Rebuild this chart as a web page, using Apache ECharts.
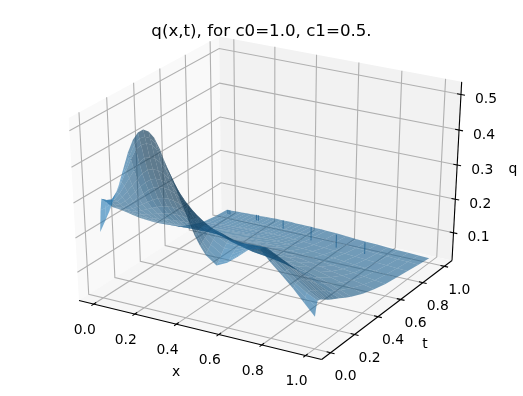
<!DOCTYPE html>
<html>
<head>
    <title>q(x,t)</title>
    <script src="https://cdn.jsdelivr.net/npm/echarts@6/dist/echarts.min.js"></script>
    <style>
        html, body { margin: 0; padding: 0; background: #fff; }
        #chart { width: 523px; height: 396px; }
    </style>
</head>
<body>
<div id="chart"></div>

<script>
    var xTicks = [0, 0.2, 0.4, 0.6, 0.8, 1.0];
    var tTicks = [0, 0.2, 0.4, 0.6, 0.8, 1.0];
    var qTicks = [0.1, 0.2, 0.3, 0.4, 0.5];

    var xLim = [-0.05, 1.05];
    var tLim = [-0.05, 1.05];
    var qLim = [0.0265, 0.5245];

    var xGrid = [0, .025, .05, .075, .1, .125, .15, .175, .2, .225, .25, .275, .3, .325, .35, .375, .4, .425, .45, .475, .5,
        .55, .6, .65, .7, .75, .8, .85, .9, .95, 1];
    var tGrid = [0, .01, .02, .04, .06, .08, .1, .13, .16, .2, .25, .3, .4, .5, .6, .7, .8, .9, 1];

    // one row per tGrid value
    var q000 = [.21, .243, .277, .317, .356, .405, .453, .49, .513, .524, .522, .508, .48, .44, .405, .37, .335, .298, .262, .235, .213, .19, .205, .23, .257, .265, .233, .205, .175, .142, .109];
    var q001 = [.27, .28, .295, .325, .36, .40, .44, .475, .495, .503, .502, .49, .465, .43, .397, .364, .332, .297, .264, .239, .218, .195, .208, .232, .258, .265, .235, .207, .18, .155, .135];
    var q002 = [.30, .30, .305, .33, .36, .395, .43, .46, .475, .482, .482, .47, .45, .42, .39, .36, .33, .297, .267, .243, .223, .2, .212, .235, .258, .264, .236, .21, .185, .165, .15];
    var q004 = [.29, .295, .30, .32, .345, .37, .395, .42, .435, .44, .44, .432, .415, .395, .37, .345, .32, .295, .27, .25, .233, .213, .22, .238, .256, .26, .235, .21, .186, .165, .148];
    var q006 = [.28, .285, .29, .305, .325, .345, .365, .385, .398, .403, .403, .397, .385, .37, .352, .332, .312, .292, .272, .255, .242, .225, .227, .24, .252, .252, .232, .208, .184, .162, .143];
    var q008 = [.268, .272, .278, .29, .305, .322, .34, .355, .367, .372, .372, .368, .36, .347, .333, .318, .302, .286, .272, .26, .25, .235, .232, .24, .245, .242, .225, .203, .18, .157, .138];
    var q010 = [.258, .26, .265, .275, .288, .302, .316, .33, .34, .345, .346, .343, .336, .326, .315, .303, .29, .278, .268, .26, .256, .24, .236, .24, .24, .232, .216, .196, .174, .152, .132];
    var q013 = [.247, .248, .25, .257, .266, .276, .286, .295, .303, .307, .308, .306, .301, .294, .286, .277, .267, .258, .251, .246, .243, .232, .229, .23, .228, .216, .201, .184, .165, .145, .125];
    var q016 = [.236, .236, .237, .242, .248, .255, .262, .268, .273, .276, .277, .276, .272, .267, .261, .254, .247, .239, .232, .226, .222, .212, .207, .205, .203, .197, .186, .171, .154, .136, .119];
    var q020 = [.22, .22, .221, .224, .228, .232, .236, .24, .243, .245, .245, .245, .243, .239, .234, .229, .224, .219, .214, .209, .203, .195, .188, .184, .18, .174, .165, .152, .138, .124, .111];
    var q025 = [.2, .2, .2, .202, .204, .206, .208, .21, .212, .213, .214, .214, .213, .212, .21, .207, .204, .2, .197, .193, .19, .183, .177, .171, .165, .158, .149, .138, .126, .113, .1];
    var q030 = [.18, .18, .18, .181, .182, .183, .184, .185, .186, .187, .187, .187, .186, .185, .184, .183, .181, .179, .178, .176, .175, .17, .165, .158, .15, .142, .133, .124, .114, .102, .09];
    var q040 = [.145, .145, .146, .147, .148, .149, .15, .15, .151, .152, .152, .152, .152, .152, .151, .15, .15, .148, .147, .146, .144, .14, .135, .13, .123, .116, .108, .1, .092, .083, .073];
    var q050 = [.115, .116, .117, .117, .118, .119, .12, .12, .121, .122, .122, .122, .122, .122, .121, .121, .12, .119, .118, .116, .115, .111, .107, .103, .098, .092, .086, .08, .074, .068, .061];
    var q060 = [.085, .086, .087, .088, .089, .09, .091, .092, .093, .093, .094, .094, .095, .095, .095, .095, .094, .093, .092, .091, .09, .087, .084, .08, .076, .072, .068, .064, .06, .056, .052];
    var q070 = [.066, .067, .068, .069, .07, .071, .072, .073, .074, .074, .075, .075, .076, .076, .076, .076, .075, .075, .074, .073, .072, .07, .068, .065, .062, .059, .056, .053, .051, .048, .046];
    var q080 = [.052, .053, .054, .055, .056, .057, .058, .059, .06, .06, .061, .061, .062, .062, .062, .062, .061, .061, .06, .06, .059, .057, .055, .053, .051, .049, .047, .045, .044, .042, .041];
    var q090 = [.046, .046, .047, .048, .049, .05, .05, .051, .052, .052, .053, .053, .053, .053, .053, .053, .053, .053, .052, .052, .051, .05, .048, .046, .044, .043, .041, .04, .038, .037, .035];
    var q100 = [.043, .043, .044, .044, .045, .045, .046, .046, .047, .047, .048, .048, .048, .048, .047, .047, .047, .047, .046, .046, .045, .044, .042, .04, .038, .037, .035, .034, .033, .032, .03];
    var qRows = [q000, q001, q002, q004, q006, q008, q010, q013, q016, q020, q025, q030, q040, q050, q060, q070, q080, q090, q100];

    // thin spikes hanging off the back edge: x, top q, bottom q
    var spikeX = [0.005, 0.015, 0.15, 0.16, 0.285, 0.425, 0.55, 0.69];
    var spikeTop = [.043, .043, .047, .047, .048, .046, .04, .036];
    var spikeBottom = [.03, .03, .03, .03, .022, .005, .0, .0];

    var chart = echarts.init(document.getElementById('chart'));

    // same camera as the 3d view: elev 30, azim -60, dist 10
    var el = 30 * Math.PI / 180, az = -60 * Math.PI / 180;
    var w = [Math.cos(el) * Math.cos(az), Math.cos(el) * Math.sin(az), Math.sin(el)];
    var u = [-Math.sin(az), Math.cos(az), 0];
    var v = [-Math.sin(el) * Math.cos(az), -Math.sin(el) * Math.sin(az), Math.cos(el)];

    function dot(a, b) { return a[0] * b[0] + a[1] * b[1] + a[2] * b[2]; }

    function camera(x, t, q) {
        var a = [
            (x - xLim[0]) / (xLim[1] - xLim[0]) - 0.5,
            (t - tLim[0]) / (tLim[1] - tLim[0]) - 0.5,
            (q - qLim[0]) / (qLim[1] - qLim[0]) - 0.5
        ];
        var d = 10 - dot(a, w);
        return [dot(a, u) / d, dot(a, v) / d, d];
    }
    function project(x, t, q) {
        var c = camera(x, t, q);
        return [c[0], c[1]];
    }

    // pane box sits a little outside the limits
    var xP = [xLim[0] - (xLim[1] - xLim[0]) / 48, xLim[1] + (xLim[1] - xLim[0]) / 48];
    var tP = [tLim[0] - (tLim[1] - tLim[0]) / 48, tLim[1] + (tLim[1] - tLim[0]) / 48];
    var qP = [qLim[0] - (qLim[1] - qLim[0]) / 48, qLim[1] + (qLim[1] - qLim[0]) / 48];

    var panes = [
        { fill: 'rgb(249,249,249)', pts: [[xP[0], tP[0], qP[0]], [xP[0], tP[1], qP[0]], [xP[0], tP[1], qP[1]], [xP[0], tP[0], qP[1]]] },
        { fill: 'rgb(242,242,242)', pts: [[xP[0], tP[1], qP[0]], [xP[1], tP[1], qP[0]], [xP[1], tP[1], qP[1]], [xP[0], tP[1], qP[1]]] },
        { fill: 'rgb(246,246,246)', pts: [[xP[0], tP[0], qP[0]], [xP[1], tP[0], qP[0]], [xP[1], tP[1], qP[0]], [xP[0], tP[1], qP[0]]] }
    ];

    var gridLines = [];
    xTicks.forEach(function (x) {
        gridLines.push([[x, tP[0], qP[0]], [x, tP[1], qP[0]], [x, tP[1], qP[1]]]);
    });
    tTicks.forEach(function (t) {
        gridLines.push([[xP[1], t, qP[0]], [xP[0], t, qP[0]], [xP[0], t, qP[1]]]);
    });
    qTicks.forEach(function (q) {
        gridLines.push([[xP[0], tP[0], q], [xP[0], tP[1], q], [xP[1], tP[1], q]]);
    });

    var axisLines = [
        [[xP[0], tP[0], qP[0]], [xP[1], tP[0], qP[0]]],
        [[xP[1], tP[0], qP[0]], [xP[1], tP[1], qP[0]]],
        [[xP[1], tP[1], qP[0]], [xP[1], tP[1], qP[1]]]
    ];
    var tickLen = 0.018;
    xTicks.forEach(function (x) {
        axisLines.push([[x, tP[0] - tickLen, qP[0]], [x, tP[0] + tickLen, qP[0]]]);
    });
    tTicks.forEach(function (t) {
        axisLines.push([[xP[1] + tickLen, t, qP[0]], [xP[1] - tickLen, t, qP[0]]]);
    });
    qTicks.forEach(function (q) {
        axisLines.push([[xP[1] + tickLen, tP[1], q], [xP[1] - tickLen, tP[1], q]]);
    });

    // surface cells, far ones first
    var cells = [];
    for (var j = 0; j < tGrid.length - 1; j++) {
        for (var i = 0; i < xGrid.length - 1; i++) {
            var pts = [
                [xGrid[i], tGrid[j], qRows[j][i]],
                [xGrid[i + 1], tGrid[j], qRows[j][i + 1]],
                [xGrid[i + 1], tGrid[j + 1], qRows[j + 1][i + 1]],
                [xGrid[i], tGrid[j + 1], qRows[j + 1][i]]
            ];
            var depth = 0;
            pts.forEach(function (p) { depth += camera(p[0], p[1], p[2])[2]; });
            cells.push({ pts: pts, depth: depth, fill: cellColor(pts) });
        }
    }
    cells.sort(function (a, b) { return b.depth - a.depth; });

    function cellColor(p) {
        var a = [p[0][0] - p[2][0], p[0][1] - p[2][1], p[0][2] - p[2][2]];
        var b = [p[1][0] - p[3][0], p[1][1] - p[3][1], p[1][2] - p[3][2]];
        var n = [a[1] * b[2] - a[2] * b[1], a[2] * b[0] - a[0] * b[2], a[0] * b[1] - a[1] * b[0]];
        var len = Math.sqrt(dot(n, n));
        if (n[2] < 0) len = -len;
        var light = [-0.6667, -0.6667, 0.3333];
        var shade = dot(n, light) / len;
        var f = shade > 0 ? 0.7 + 0.35 * shade : Math.max(0.7 + 0.55 * shade, 0.48);
        var alpha = shade > 0 ? 0.6 : 0.66;
        return 'rgba(' + Math.round(31 * f) + ',' + Math.round(119 * f) + ',' + Math.round(180 * f) + ',' + alpha + ')';
    }

    function polyOf(api, pts) {
        return pts.map(function (p) { return api.coord(project(p[0], p[1], p[2])); });
    }

    function customSeries(data, renderItem, z) {
        return {
            type: 'custom',
            coordinateSystem: 'cartesian2d',
            data: data.map(function (d, i) { return [i]; }),
            renderItem: renderItem,
            encode: { x: 0, y: 0 },
            clip: false,
            silent: true,
            z: z,
            animation: false
        };
    }

    function tickText(api, pos, str, dx, dy) {
        var c = api.coord(pos);
        return {
            type: 'text',
            x: c[0] + dx,
            y: c[1] + dy,
            style: { text: str, fill: '#000', font: '13.9px "DejaVu Sans"', textAlign: 'center', textVerticalAlign: 'middle' }
        };
    }

    var tickLabels = [];
    xTicks.forEach(function (x) { tickLabels.push({ pos: project(x, tP[0], qP[0]), str: x.toFixed(1), dx: -9, dy: 26 }); });
    tTicks.forEach(function (t) { tickLabels.push({ pos: project(xP[1], t, qP[0]), str: t.toFixed(1), dx: 15, dy: 24 }); });
    qTicks.forEach(function (q) { tickLabels.push({ pos: project(xP[1], tP[1], q), str: q.toFixed(1), dx: 25, dy: 5 }); });

    var option = {
        animation: false,
        backgroundColor: '#fff',
        title: {
            text: 'q(x,t), for c0=1.0, c1=0.5.',
            left: 'center',
            top: 10,
            textStyle: { fontFamily: 'DejaVu Sans', fontSize: 16.67, fontWeight: 'normal', color: '#000' }
        },
        grid: { left: 0, right: 0, top: 0, bottom: 0 },
        xAxis: { type: 'value', min: -0.09985, max: 0.09464, show: false },
        yAxis: { type: 'value', min: -0.1019, max: 0.0961, show: false },
        graphic: [
            { type: 'text', x: 176, y: 372, style: { text: 'x', fill: '#000', font: '13.9px "DejaVu Sans"', textAlign: 'center', textVerticalAlign: 'middle' } },
            { type: 'text', x: 425, y: 344, style: { text: 't', fill: '#000', font: '13.9px "DejaVu Sans"', textAlign: 'center', textVerticalAlign: 'middle' } },
            { type: 'text', x: 513, y: 169, style: { text: 'q', fill: '#000', font: '13.9px "DejaVu Sans"', textAlign: 'center', textVerticalAlign: 'middle' } }
        ],
        series: [
            customSeries(panes, function (params, api) {
                var p = panes[params.dataIndex];
                return { type: 'polygon', shape: { points: polyOf(api, p.pts) }, style: { fill: p.fill } };
            }, 1),
            customSeries(gridLines, function (params, api) {
                return { type: 'polyline', shape: { points: polyOf(api, gridLines[params.dataIndex]) }, style: { fill: 'none', stroke: 'rgb(176,176,176)', lineWidth: 1.1 } };
            }, 2),
            customSeries(axisLines, function (params, api) {
                return { type: 'polyline', shape: { points: polyOf(api, axisLines[params.dataIndex]) }, style: { fill: 'none', stroke: '#000', lineWidth: 1.1 } };
            }, 3),
            customSeries(cells, function (params, api) {
                var c = cells[params.dataIndex];
                return { type: 'polygon', shape: { points: polyOf(api, c.pts) }, style: { fill: c.fill } };
            }, 4),
            customSeries(spikeX, function (params, api) {
                var i = params.dataIndex;
                return { type: 'line', shape: (function () {
                    var a = api.coord(project(spikeX[i], 1, spikeTop[i]));
                    var b = api.coord(project(spikeX[i], 1, spikeBottom[i]));
                    return { x1: a[0], y1: a[1], x2: b[0], y2: b[1] };
                })(), style: { stroke: 'rgba(20,90,140,0.7)', lineWidth: 1 } };
            }, 5),
            customSeries(tickLabels, function (params, api) {
                var l = tickLabels[params.dataIndex];
                return tickText(api, l.pos, l.str, l.dx, l.dy);
            }, 6)
        ]
    };

    chart.setOption(option);
</script>
</body>
</html>
